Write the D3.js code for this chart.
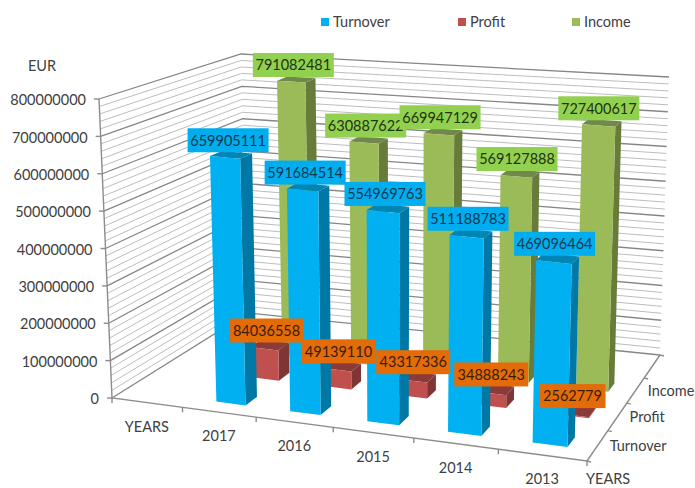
<!DOCTYPE html>
<html>
<head>
<meta charset="utf-8">
<style>
  body { margin: 0; background: #fff; }
  text { font-family: Lato, "Open Sans", sans-serif; font-size: 14.5px; fill: #404040; }
</style>
</head>
<body>
<div id="chart"></div>
<script src="https://cdn.jsdelivr.net/npm/d3@7"></script>
<script>
const years = ["YEARS", "2017", "2016", "2015", "2014", "2013"];
const depthNames = ["Turnover", "Profit", "Income", "YEARS"];
const barYears = ["2017", "2016", "2015", "2014", "2013"];
const turnover = [659905111, 591684514, 554969763, 511188783, 469096464];
const profit = [84036558, 49139110, 43317336, 34888243, 2562779];
const income = [791082481, 630887622, 669947129, 569127888, 727400617];

const colors = {
    Turnover: {front: "#00b0f0", side: "#0078a6", top: "#0085b5", label: "#00aeef", text: "#10384f"},
    Profit: {front: "#c0504d", side: "#7f3533", top: "#8a3a38", label: "#e36c09", text: "#3a1c08"},
    Income: {front: "#9bbb59", side: "#677c3a", top: "#71884a", label: "#92d050", text: "#22330f"}
};

const series = [
    {name: "Turnover", values: turnover},
    {name: "Profit", values: profit},
    {name: "Income", values: income}
];

const svg = d3.select("#chart").append("svg")
    .attr("width", 695)
    .attr("height", 488);

// unit square -> quad, corners go front-left, front-right, back-right, back-left
function quadMap(q) {
    const [[x0, y0], [x1, y1], [x2, y2], [x3, y3]] = q;
    const sx = x0 - x1 + x2 - x3, sy = y0 - y1 + y2 - y3;
    const dx1 = x1 - x2, dx2 = x3 - x2, dy1 = y1 - y2, dy2 = y3 - y2;
    const den = dx1 * dy2 - dx2 * dy1;
    const g = (sx * dy2 - dx2 * sy) / den;
    const h = (dx1 * sy - sx * dy1) / den;
    const a = x1 - x0 + g * x1, b = x3 - x0 + h * x3;
    const d = y1 - y0 + g * y1, e = y3 - y0 + h * y3;
    return (u, v) => {
        const w = g * u + h * v + 1;
        return [(a * u + b * v + x0) / w, (d * u + e * v + y0) / w];
    };
}

const floorCorners = [[112, 398], [587, 461], [660, 355], [248, 313]];
const roofCorners = [[99, 99], [595, 142], [669, 77], [241, 54]];
const floorMap = quadMap(floorCorners);

// how far the full value height reaches from the floor, blended between the four corners
function lift(u, v) {
    const t = Math.pow(v, 0.8); // height shrinks quicker near the front
    const mix = i => {
        const f = floorCorners.map((p, k) => roofCorners[k][i] - p[i]);
        const front = f[0] + (f[1] - f[0]) * u;
        const back = f[3] + (f[2] - f[3]) * u;
        return front + (back - front) * t;
    };
    return [mix(0), mix(1)];
}

// u along the years, v into the depth, h up the value axis (all 0..1)
function project(u, v, h) {
    const b = floorMap(u, v), l = lift(u, v);
    return [b[0] + l[0] * h, b[1] + l[1] * h];
}

const xScale = d3.scaleBand().domain(years).range([0, 1]).paddingInner(0.6).paddingOuter(0.3);
const depthScale = d3.scaleBand().domain(depthNames).range([0, 1]).paddingInner(2 / 3).paddingOuter(1 / 3);
const yScale = d3.scaleLinear().domain([0, 800000000]).range([0, 1]);

// band edges of the axes, where the tick marks sit
const xStep = d3.range(years.length + 1).map(i => i / years.length);
const depthStep = d3.range(depthNames.length + 1).map(i => i / depthNames.length);

const path = d3.line();
const closed = pts => path(pts) + "Z";

// walls
const gridTicks = yScale.ticks(40);
const majorTicks = yScale.ticks(8);
svg.append("g").selectAll("path")
    .data(gridTicks.slice().sort((a, b) => majorTicks.includes(a) - majorTicks.includes(b)))
    .join("path")
    .attr("fill", "none")
    .attr("stroke", d => majorTicks.includes(d) ? "#868686" : "#bdbdbd")
    .attr("stroke-width", d => majorTicks.includes(d) ? 1.3 : 1)
    .attr("d", d => path([
        project(0, 0, yScale(d)),
        project(0, 1, yScale(d)),
        project(1, 1, yScale(d))
    ]));

// axes
const axisColor = "#8c8c8c";
const axes = svg.append("g").attr("fill", "none").attr("stroke", axisColor).attr("stroke-width", 1.4);
axes.append("path").attr("d", path([project(0, 0, 1), project(0, 0, 0), project(1, 0, 0), project(1, 1, 0)]));

axes.selectAll(".value-tick")
    .data(majorTicks)
    .join("path")
    .attr("class", "value-tick")
    .attr("d", d => {
        const p = project(0, 0, yScale(d));
        return path([[p[0] - 5, p[1]], p]);
    });

axes.selectAll(".x-tick")
    .data(xStep)
    .join("path")
    .attr("class", "x-tick")
    .attr("d", d => {
        const p = project(d, 0, 0);
        return path([p, [p[0], p[1] + 5]]);
    });

axes.selectAll(".depth-tick")
    .data(depthStep)
    .join("path")
    .attr("class", "depth-tick")
    .attr("d", d => {
        const p = project(1, d, 0);
        return path([p, [p[0] + 4, p[1] + 1]]);
    });

// axis text
svg.append("g").selectAll("text")
    .data(majorTicks)
    .join("text")
    .attr("text-anchor", "end")
    .attr("dy", "0.36em")
    .attr("x", d => project(0, 0, yScale(d))[0] - 13)
    .attr("y", d => project(0, 0, yScale(d))[1] + 1)
    .text(d3.format("d"));

svg.append("g").selectAll("text")
    .data(years)
    .join("text")
    .attr("text-anchor", "middle")
    .attr("dy", "0.36em")
    .attr("x", d => project(xScale(d) + xScale.bandwidth() / 2, 0, 0)[0])
    .attr("y", d => project(xScale(d) + xScale.bandwidth() / 2, 0, 0)[1] + 24)
    .text(d => d);

svg.append("g").selectAll("text")
    .data(depthNames.slice(0, 3))
    .join("text")
    .attr("dy", "0.36em")
    .attr("x", d => project(1, depthScale(d) + depthScale.bandwidth() / 2, 0)[0] + 12)
    .attr("y", d => project(1, depthScale(d) + depthScale.bandwidth() / 2, 0)[1])
    .text(d => d);

svg.append("text")
    .attr("dy", "0.36em")
    .attr("x", project(1, 0, 0)[0] - 1)
    .attr("y", project(1, 0, 0)[1] + 18)
    .text(depthNames[3]);

svg.append("text")
    .attr("x", 28)
    .attr("y", 66)
    .attr("dy", "0.36em")
    .text("EUR");

// bars, back row first
const bars = [];
series.slice().reverse().forEach(s => {
    s.values.forEach((v, i) => bars.push({name: s.name, year: barYears[i], value: v}));
});

function corners(d) {
    const u0 = xScale(d.year), u1 = u0 + xScale.bandwidth();
    const v0 = depthScale(d.name), v1 = v0 + depthScale.bandwidth();
    return {u0, u1, v0, v1, h: yScale(d.value)};
}

const barGroups = svg.append("g").selectAll("g")
    .data(bars)
    .join("g");

barGroups.append("path")
    .attr("fill", d => colors[d.name].side)
    .attr("d", d => {
        const c = corners(d);
        return closed([project(c.u1, c.v0, 0), project(c.u1, c.v1, 0), project(c.u1, c.v1, c.h), project(c.u1, c.v0, c.h)]);
    });

barGroups.append("path")
    .attr("fill", d => colors[d.name].top)
    .attr("d", d => {
        const c = corners(d);
        return closed([project(c.u0, c.v0, c.h), project(c.u1, c.v0, c.h), project(c.u1, c.v1, c.h), project(c.u0, c.v1, c.h)]);
    });

barGroups.append("path")
    .attr("fill", d => colors[d.name].front)
    .attr("d", d => {
        const c = corners(d);
        return closed([project(c.u0, c.v0, 0), project(c.u1, c.v0, 0), project(c.u1, c.v0, c.h), project(c.u0, c.v0, c.h)]);
    });

// value labels sit above everything
const labels = svg.append("g").selectAll("g")
    .data(bars)
    .join("g")
    .attr("transform", d => {
        const c = corners(d);
        const p = project((c.u0 + c.u1) / 2, (c.v0 + c.v1) / 2, c.h);
        return `translate(${p[0] - 3},${p[1] - 14.5})`;
    });

labels.append("rect")
    .attr("fill", d => colors[d.name].label)
    .attr("x", d => d.name === "Profit" ? (d.value < 10000000 ? -33 : -37) : -40.5)
    .attr("y", -12)
    .attr("width", d => d.name === "Profit" ? (d.value < 10000000 ? 66 : 74) : 81)
    .attr("height", 24);

labels.append("text")
    .attr("text-anchor", "middle")
    .attr("dy", "0.36em")
    .style("fill", d => colors[d.name].text)
    .text(d => d.value);

// legend
const legendX = d3.scaleOrdinal().domain(series.map(s => s.name)).range([321, 458, 572]);
const legend = svg.append("g").selectAll("g")
    .data(series)
    .join("g")
    .attr("transform", d => `translate(${legendX(d.name)},22)`);

legend.append("rect")
    .attr("y", -4)
    .attr("width", 8)
    .attr("height", 8)
    .attr("fill", d => colors[d.name].front);

legend.append("text")
    .attr("x", 12)
    .attr("dy", "0.36em")
    .text(d => d.name);
</script>
</body>
</html>
